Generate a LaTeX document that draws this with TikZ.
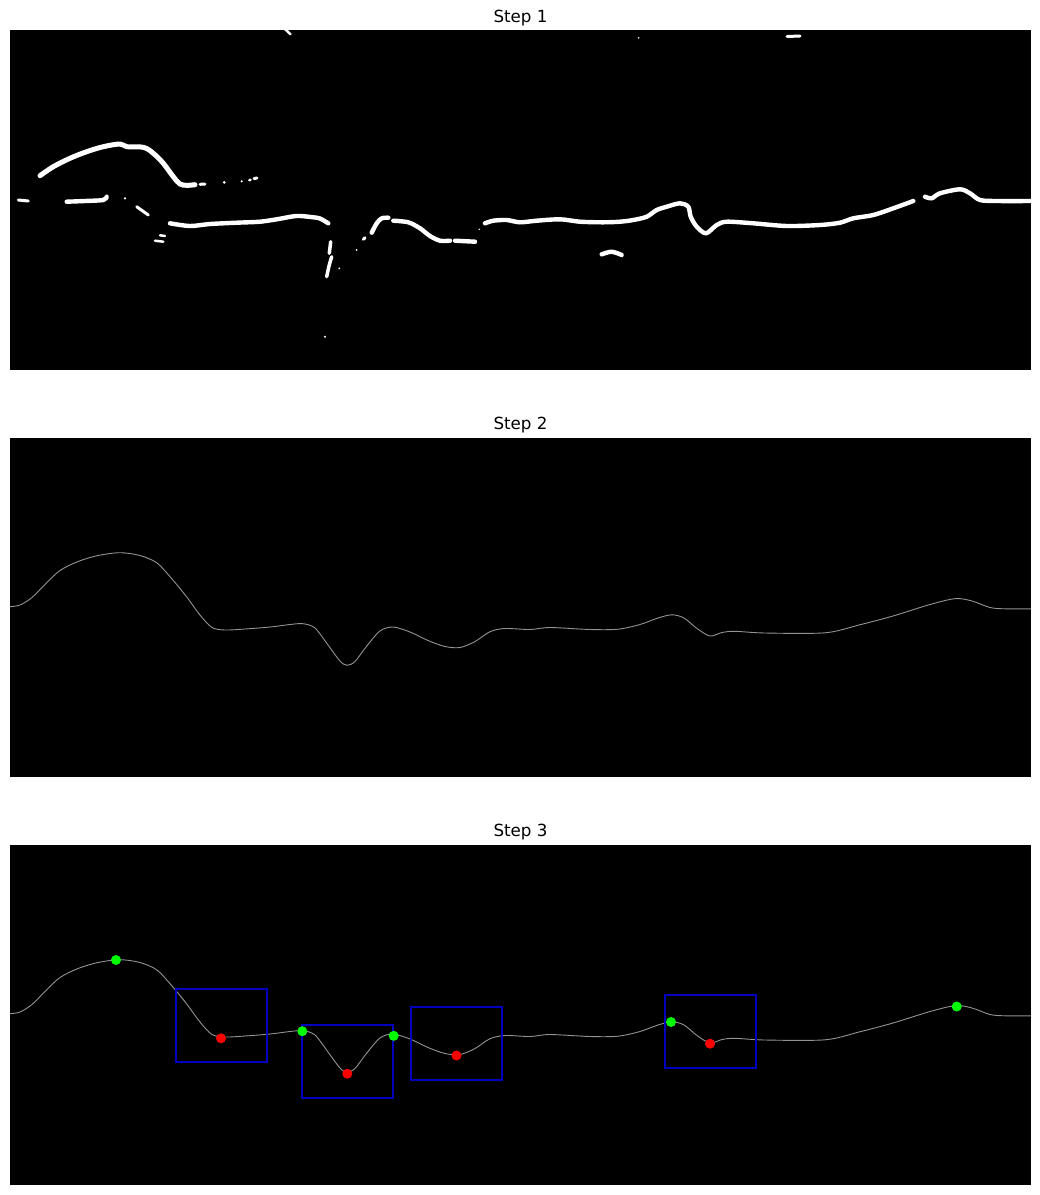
\documentclass[tikz,border=0pt]{standalone}
\usepackage{fontspec}
\setmainfont{DejaVu Sans}
\usepackage{tikz}
\usetikzlibrary{calc}

\definecolor{winblue}{RGB}{0,0,190}
\definecolor{peakgreen}{RGB}{0,255,0}
\definecolor{pitred}{RGB}{255,0,0}

\begin{document}
\begin{tikzpicture}[
  x=1pt, y=-1pt,
  panel/.style={fill=black},
  ttl/.style={anchor=base, font=\fontsize{16.7}{19}\selectfont},
  blob/.style={draw=white, line width=4.4pt, line cap=round, line join=round},
  speck/.style={fill=white},
  trace/.style={draw=gray!85, line width=0.9pt},
  win/.style={draw=winblue, line width=2pt},
  peak/.style={fill=peakgreen},
  pit/.style={fill=pitred},
]
\useasboundingbox (0,0) rectangle (1040,1195);

% three panels, each with its title
\fill[panel] (10,30)  rectangle (1031,370);
\fill[panel] (10,438) rectangle (1031,777);
\fill[panel] (10,845) rectangle (1031,1185);
\node[ttl] (t1) at (520.5,22)  {Step 1};
\node[ttl] (t2) at (520.5,429) {Step 2};
\node[ttl] (t3) at (520.5,836) {Step 3};

% Step 1: white pieces of the mask
\begin{scope}
\clip (10,30) rectangle (1031,370);
\draw[blob, line width=5pt] plot[smooth, tension=0.6] coordinates {(40,175.7) (53.3,166.7) (70,158.3) (86.7,151.7) (103.3,146.7) (120,144) (126.7,146.7) (143.3,147.3) (153.3,153.3) (163.3,163.3) (173.3,176.7) (180,184) (186.7,185.3) (195,184.7)};
\draw[blob, line width=3pt] (200,184.3) -- (205,184);
\draw[blob, line width=2.5pt] (249.3,180.2) -- (250.5,179.8);
\draw[blob, line width=3pt] (254,178.6) -- (257,178);
\draw[blob, line width=3pt] (18.3,200) -- (28.3,201);
\draw[blob] plot[smooth, tension=0.5] coordinates {(66.7,201.7) (85,201) (103.3,200) (106.7,196.7)};
\draw[blob, line width=3pt] (136.7,206.7) -- (148.3,215);
\draw[blob, line width=2.5pt] (160,235.3) -- (165,236);
\draw[blob, line width=2.5pt] (155,240.7) -- (163.3,241.7);
\draw[blob] plot[smooth, tension=0.5] coordinates {(170,223.3) (190,226) (210,224) (236.7,222.7) (260,221.7) (276.7,219.3) (296.7,216) (313.3,217.3) (320,218.5) (328.3,223.3)};
\draw[blob, line width=3.5pt] (330.7,241.7) -- (329.3,253.3);
\draw[blob, line width=3.5pt] plot[smooth] coordinates {(331.7,256.7) (329,266) (326.7,276.7)};
\draw[blob, line width=3pt] (363.3,239.3) -- (365,237.7);
\draw[blob] plot[smooth, tension=0.5] coordinates {(371.7,232.7) (376.7,223.3) (381.7,218.3) (388.3,217.7)};
\draw[blob] plot[smooth, tension=0.5] coordinates {(393.3,220.7) (408.3,222.3) (420,228.3) (430,236) (440,240.7) (450,240.7)};
\draw[blob] (455,240.7) -- (475,241.7);
\draw[blob] plot[smooth, tension=0.5] coordinates {(485,223.3) (493.3,220.7) (506.7,220) (520,222.3) (536.7,220.7) (560,219.3) (580,221.7) (603.3,222.3) (620,221.7) (633.3,220) (646.7,216.7) (656.7,210) (666.7,206.7) (680,203.3) (688.3,206.7) (690.7,216.7) (696.7,226.7) (706,233.3) (716.7,225) (726.7,221.7) (753.3,223.3) (786.7,226) (820,225) (840,222.7) (853.3,218.3) (873.3,215) (893.3,208.3) (913.3,201)};
\draw[blob] plot[smooth, tension=0.5] coordinates {(925,196.7) (931.7,198.3) (940,193.3) (960,189.3) (970,193.3) (980,200) (996.7,201) (1035,201)};
\draw[blob] plot[smooth] coordinates {(601.7,254.3) (611.7,251.7) (621.7,255)};
\draw[blob, line width=2.5pt] (285,29) -- (290.4,34.3);
\draw[blob, line width=3pt] (787,36.5) -- (800,36);
\fill[speck] (224.3,182.3) circle (1.5pt);
\fill[speck] (241.7,181.3) circle (1.2pt);
\fill[speck] (125,198.3) circle (1.2pt);
\fill[speck] (339.3,268.3) circle (1pt);
\fill[speck] (325,336.7) circle (1.2pt);
\fill[speck] (356.7,250) circle (1pt);
\fill[speck] (479.3,229.3) circle (0.8pt);
\fill[speck] (638.6,37.9) circle (0.9pt);
\end{scope}

% Step 2 and Step 3: the fitted line
\foreach \oy in {0,407}{
  \draw[trace, shift={(0,\oy)}] plot[smooth, tension=0.5] coordinates {(10,606.7) (20,605) (32,597.5) (45,584.5) (60,570.5) (78,561.5) (98,555.5) (120,552.7) (140,555.5) (157,563) (172,579) (186,596) (200,615) (212,627.5) (225,630) (245,629) (270,627) (290,624.5) (303,623.7) (315,628) (328,645) (340,661) (347,665.3) (355,661.5) (366,647) (380,631) (393,627) (410,632) (428,640.5) (445,646.5) (460,647.5) (475,641.5) (490,631.7) (505,628.5) (530,629.5) (550,627.5) (590,629.5) (618,629.2) (640,624.5) (658,618) (672,614.8) (684,618) (697,628.5) (710,636) (722,632.5) (735,631.3) (765,633) (825,632.8) (859,625) (893,616) (930,604.5) (955.5,598.6) (972,601) (990,607.5) (1005,608.8) (1031,608.8)};
}

% Step 3: windows round each dip
\foreach \px/\py in {221/1038.3, 347.3/1073.7, 456.5/1055.5, 710/1043.7}{
  \draw[win] (\px-45.5,\py-49) -- (\px+45.5,\py-49) -- (\px+45.5,\py+24) -- (\px-45.5,\py+24) -- cycle;
}
\foreach \px/\py in {116/960, 302.3/1031.2, 393.7/1035.8, 671/1022, 956.7/1006.5}{
  \fill[peak] (\px,\py) circle (5pt);
}
\foreach \px/\py in {221/1038.3, 347.3/1073.7, 456.5/1055.5, 710/1043.7}{
  \fill[pit] (\px,\py) circle (5pt);
}
\end{tikzpicture}
\end{document}
